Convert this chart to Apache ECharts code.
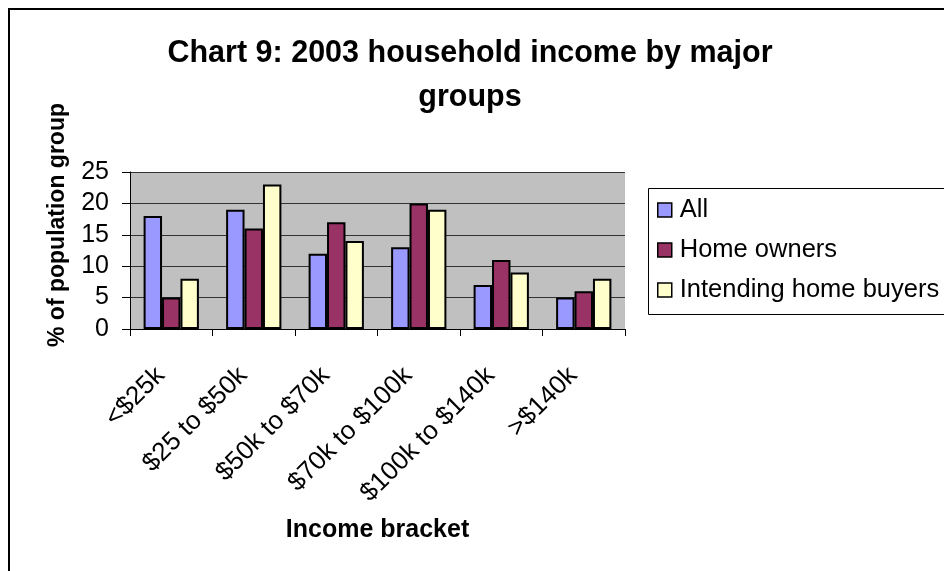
<!DOCTYPE html>
<html>
<head>
<meta charset="utf-8">
<script src="https://cdn.jsdelivr.net/npm/echarts@6/dist/echarts.min.js"></script>
<style>
html,body{margin:0;padding:0;background:#fff;}
#chart{width:944px;height:571px;}
</style>
</head>
<body>
<div id="chart"></div>
<script>
var categories = ['<$25k', '$25 to $50k', '$50k to $70k', '$70k to $100k', '$100k to $140k', '>$140k'];
var allValues = [18, 19, 12, 13, 7, 5];
var homeOwners = [5, 16, 17, 20, 11, 6];
var intendingBuyers = [8, 23, 14, 19, 9, 8];
var yTicks = [0, 5, 10, 15, 20, 25];
var titleText = 'Chart 9: 2003 household income by major\ngroups';
var yAxisTitle = '% of population group';
var xAxisTitle = 'Income bracket';

var FONT = "'Liberation Sans', Arial, sans-serif";
var chart = echarts.init(document.getElementById('chart'), null, {renderer: 'canvas'});

function barSeries(name, data, color) {
  return {
    name: name,
    type: 'bar',
    data: data,
    barGap: '0%',
    barCategoryGap: '33%',
    itemStyle: {color: color, borderColor: '#000', borderWidth: 2},
    emphasis: {disabled: true},
    animation: false
  };
}

var option = {
  animation: false,
  backgroundColor: '#fff',
  graphic: [
    {type: 'rect', shape: {x: 9, y: 9, width: 1000, height: 1000}, style: {fill: null, stroke: '#000', lineWidth: 2}, silent: true},
    {type: 'rect', shape: {x: 648.5, y: 188.5, width: 400, height: 126}, style: {fill: '#fff', stroke: '#000', lineWidth: 1}, silent: true, z: 1},
    {type: 'text', x: 470, y: 32, silent: true,
      style: {text: titleText, align: 'center', verticalAlign: 'top', font: 'bold 30.5px ' + FONT, lineHeight: 44, fill: '#000'}},
    {type: 'text', x: 58, y: 225, rotation: Math.PI / 2, silent: true,
      style: {text: yAxisTitle, align: 'center', verticalAlign: 'middle', font: 'bold 23px ' + FONT, fill: '#000'}}
  ],
  legend: {
    orient: 'vertical',
    left: 657,
    top: 196,
    z: 5,
    padding: 0,
    itemGap: 12,
    itemWidth: 14,
    itemHeight: 14,
    icon: 'rect',
    itemStyle: {borderColor: '#000', borderWidth: 1.5},
    textStyle: {fontFamily: FONT, fontSize: 25.5, color: '#000', lineHeight: 28, padding: [0, 0, 0, 3]},
    data: ['All', 'Home owners', 'Intending home buyers']
  },
  grid: {left: 130, right: 319, top: 172, bottom: 242, show: true, backgroundColor: '#C0C0C0', borderWidth: 0},
  xAxis: {
    type: 'category',
    data: categories,
    name: xAxisTitle,
    nameLocation: 'middle',
    nameGap: 189,
    nameTextStyle: {fontFamily: FONT, fontSize: 25, fontWeight: 'bold', color: '#000'},
    axisLine: {lineStyle: {color: '#000', width: 1}},
    axisTick: {show: true, length: 7, lineStyle: {color: '#000'}},
    axisLabel: {rotate: 45, margin: 32, padding: [0, 15, 0, 0], fontFamily: FONT, fontSize: 26, color: '#000', interval: 0}
  },
  yAxis: {
    type: 'value',
    min: 0,
    max: 25,
    interval: 5,
    axisLine: {show: true, lineStyle: {color: '#000', width: 1}},
    axisTick: {show: true, length: 8, lineStyle: {color: '#000'}},
    axisLabel: {margin: 21, fontFamily: FONT, fontSize: 25, color: '#000',
      formatter: function (v) { return yTicks.indexOf(v) >= 0 ? String(v) : ''; }},
    splitLine: {show: true, lineStyle: {color: '#333', width: 1}}
  },
  series: [
    barSeries('All', allValues, '#9999FF'),
    barSeries('Home owners', homeOwners, '#993366'),
    barSeries('Intending home buyers', intendingBuyers, '#FFFFCC')
  ]
};
chart.setOption(option);
</script>
</body>
</html>
